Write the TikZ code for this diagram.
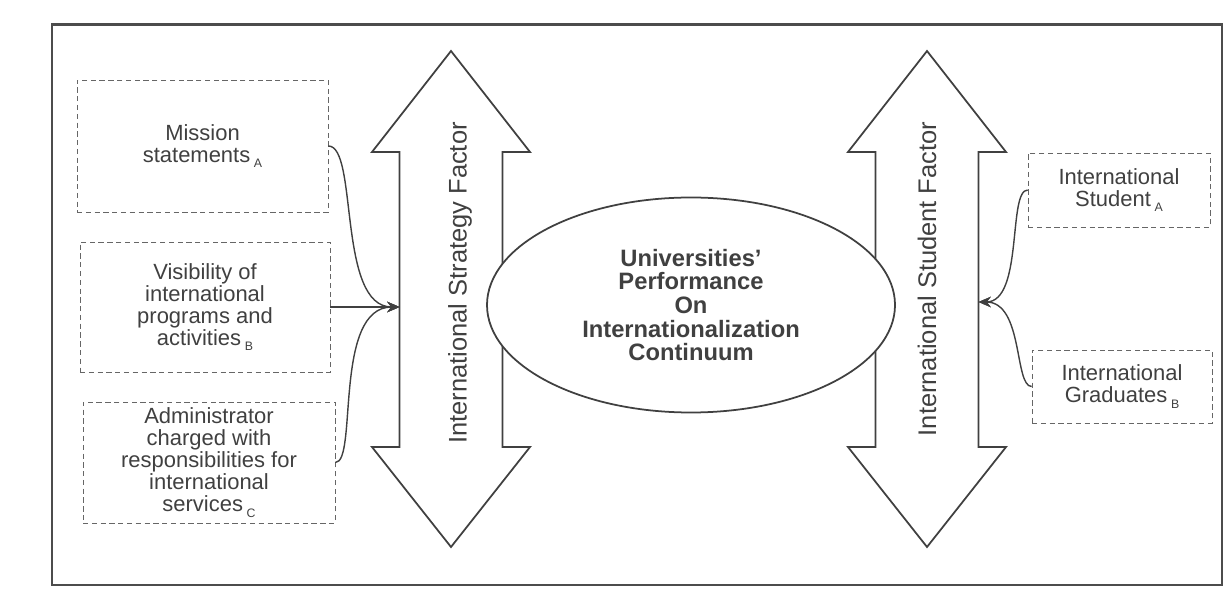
\documentclass[tikz,border=0pt]{standalone}
\usepackage{fontspec}
\setmainfont{Liberation Sans}
\usetikzlibrary{shapes.geometric,arrows.meta}
\newcommand{\subtag}[1]{\,\raisebox{-.5ex}{\scriptsize #1}}

\begin{document}
\begin{tikzpicture}

      \useasboundingbox (0,0) rectangle (24.52,12.24);
      \draw[black!70, line width=1.2pt] (1.04,0.54) rectangle (24.44,11.75);

      % the two double arrows
      \foreach \x in {9.02,18.54}
        \draw[black!75, line width=1pt, fill=white] (\x,11.22) -- (\x+1.58,9.2) -- (\x+1.03,9.2)
          -- (\x+1.03,3.3) -- (\x+1.58,3.3) -- (\x,1.3) -- (\x-1.58,3.3) -- (\x-1.03,3.3)
          -- (\x-1.03,9.2) -- (\x-1.58,9.2) -- cycle;

      \begin{scope}[every node/.style={draw=black!60, densely dashed, align=center, text=black!75,
          font=\fontsize{12.5}{12.5}\selectfont, inner sep=0pt}]
        \node[minimum width=5.02cm, minimum height=2.64cm] (1) at (4.05,9.32) {Mission\\statements\subtag{A}};
        \node[minimum width=5cm, minimum height=2.6cm] (2) at (4.1,6.1) {Visibility of\\international\\programs and\\activities\subtag{B}};
        \node[minimum width=5.04cm, minimum height=2.42cm] (3) at (4.18,2.99) {Administrator\\charged with\\responsibilities for\\international\\services\subtag{C}};
        \node[minimum width=3.64cm, minimum height=1.48cm] (4) at (22.38,8.44) {International\\Student\subtag{A}};
        \node[minimum width=3.6cm, minimum height=1.46cm] (5) at (22.44,4.51) {International\\Graduates\subtag{B}};
      \end{scope}

      \node[ellipse, draw=black!75, line width=1pt, fill=white, minimum width=8.16cm, minimum height=4.3cm,
        inner sep=0pt, align=center, text=black!75, font=\fontsize{13.5}{13.5}\selectfont\bfseries]
        (6) at (13.82,6.14) {Universities'\\Performance\\On\\Internationalization\\Continuum};

      \begin{scope}[every node/.style={rotate=90, text=black!75, font=\fontsize{14.5}{14.5}\selectfont}]
        \node (7) at (9.2,6.58) {International Strategy Factor};
        \node (8) at (18.54,6.66) {International Student Factor};
      \end{scope}

      \coordinate (st) at (7.99,6.1);
      \coordinate (sf) at (19.57,6.2);

      \begin{scope}[every edge/.style={draw, black!75, line width=.8pt, -{Stealth[length=7pt,width=6pt]}}]
        \path (1) edge[out=0, in=180, out distance=.6cm, in distance=1.25cm] (st);
        \path (2) edge (st);
        \path (3) edge[out=0, in=180, out distance=.45cm, in distance=1.33cm] (st);
        \path (4) edge[out=180, in=0, out distance=.4cm, in distance=.9cm] (sf);
        \path (5) edge[out=180, in=0, out distance=.35cm, in distance=.9cm] (sf);
      \end{scope}

\end{tikzpicture}
\end{document}
